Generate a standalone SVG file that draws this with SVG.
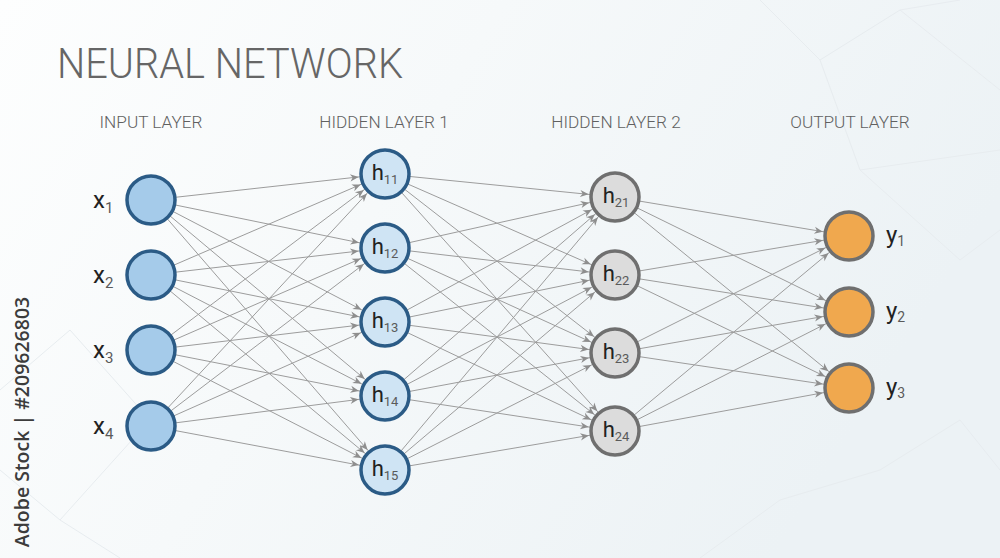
<svg xmlns="http://www.w3.org/2000/svg" width="1000" height="558" viewBox="0 0 1000 558">
  <defs>
    <linearGradient id="bg" x1="0" y1="0" x2="1" y2="0.35">
      <stop offset="0" stop-color="#fdfefe"/>
      <stop offset="0.45" stop-color="#f6f9fa"/>
      <stop offset="1" stop-color="#ecf2f5"/>
    </linearGradient>
    <marker id="ah" markerUnits="userSpaceOnUse" markerWidth="1" markerHeight="1" refX="0" refY="0" orient="auto" overflow="visible">
      <path d="M-26.5,0 L-35,-3.6 L-32.5,0 L-35,3.6 Z" fill="#8e8e8e"/>
    </marker>
    <style>
      .e { stroke:#9c9c9c; stroke-width:1; fill:none; marker-end:url(#ah); }
      .in { fill:#a5cbea; stroke:#2b5b86; stroke-width:3.5; }
      .h1 { fill:#cfe4f4; stroke:#2b5b86; stroke-width:3.5; }
      .h2 { fill:#dcdcdc; stroke:#6f6f6f; stroke-width:3.5; }
      .out { fill:#f0a84e; stroke:#6f6f6f; stroke-width:3.5; }
      .lbl { font-family:Roboto, "Liberation Sans", sans-serif; fill:#222; }
      .sub { fill:#5a5a5a; }
      .layer { font-family:Roboto, "Liberation Sans", sans-serif; font-weight:300; font-size:17.2px; fill:#606060; text-anchor:middle; }
      .deco { fill:none; stroke:#e7ecef; stroke-width:1; }
    </style>
  </defs>

  <rect x="0" y="0" width="1000" height="558" fill="url(#bg)"/>
  <g id="background-decoration">
    <polyline class="deco" points="0,390 70,330 150,420 60,520 0,470"/>
    <polyline class="deco" points="60,520 120,558"/>
    <polyline class="deco" points="760,0 820,60 900,10 1000,90"/>
    <polyline class="deco" points="820,60 860,170 1000,150"/>
    <polyline class="deco" points="900,10 960,0"/>
    <polyline class="deco" points="860,170 960,260 1000,230"/>
    <polyline class="deco" points="880,470 960,420 1000,470"/>
    <polyline class="deco" points="700,558 780,500 880,470"/>
  </g>

  <text id="title" x="57" y="78" font-family="Roboto, 'Liberation Sans', sans-serif" font-weight="300" font-size="42" fill="#666666" textLength="346" lengthAdjust="spacingAndGlyphs">NEURAL NETWORK</text>

  <g id="layer-labels">
    <text class="layer" x="151" y="128">INPUT LAYER</text>
    <text class="layer" x="384" y="128">HIDDEN LAYER 1</text>
    <text class="layer" x="616" y="128">HIDDEN LAYER 2</text>
    <text class="layer" x="850" y="128">OUTPUT LAYER</text>
  </g>

  <g id="connectors">
    <line class="e" x1="151" y1="200" x2="385" y2="174"/>
    <line class="e" x1="151" y1="200" x2="385" y2="248"/>
    <line class="e" x1="151" y1="200" x2="385" y2="322"/>
    <line class="e" x1="151" y1="200" x2="385" y2="396"/>
    <line class="e" x1="151" y1="200" x2="385" y2="470"/>
    <line class="e" x1="151" y1="275" x2="385" y2="174"/>
    <line class="e" x1="151" y1="275" x2="385" y2="248"/>
    <line class="e" x1="151" y1="275" x2="385" y2="322"/>
    <line class="e" x1="151" y1="275" x2="385" y2="396"/>
    <line class="e" x1="151" y1="275" x2="385" y2="470"/>
    <line class="e" x1="151" y1="350" x2="385" y2="174"/>
    <line class="e" x1="151" y1="350" x2="385" y2="248"/>
    <line class="e" x1="151" y1="350" x2="385" y2="322"/>
    <line class="e" x1="151" y1="350" x2="385" y2="396"/>
    <line class="e" x1="151" y1="350" x2="385" y2="470"/>
    <line class="e" x1="151" y1="426" x2="385" y2="174"/>
    <line class="e" x1="151" y1="426" x2="385" y2="248"/>
    <line class="e" x1="151" y1="426" x2="385" y2="322"/>
    <line class="e" x1="151" y1="426" x2="385" y2="396"/>
    <line class="e" x1="151" y1="426" x2="385" y2="470"/>

    <line class="e" x1="385" y1="174" x2="615" y2="197"/>
    <line class="e" x1="385" y1="174" x2="615" y2="275"/>
    <line class="e" x1="385" y1="174" x2="615" y2="353"/>
    <line class="e" x1="385" y1="174" x2="615" y2="431"/>
    <line class="e" x1="385" y1="248" x2="615" y2="197"/>
    <line class="e" x1="385" y1="248" x2="615" y2="275"/>
    <line class="e" x1="385" y1="248" x2="615" y2="353"/>
    <line class="e" x1="385" y1="248" x2="615" y2="431"/>
    <line class="e" x1="385" y1="322" x2="615" y2="197"/>
    <line class="e" x1="385" y1="322" x2="615" y2="275"/>
    <line class="e" x1="385" y1="322" x2="615" y2="353"/>
    <line class="e" x1="385" y1="322" x2="615" y2="431"/>
    <line class="e" x1="385" y1="396" x2="615" y2="197"/>
    <line class="e" x1="385" y1="396" x2="615" y2="275"/>
    <line class="e" x1="385" y1="396" x2="615" y2="353"/>
    <line class="e" x1="385" y1="396" x2="615" y2="431"/>
    <line class="e" x1="385" y1="470" x2="615" y2="197"/>
    <line class="e" x1="385" y1="470" x2="615" y2="275"/>
    <line class="e" x1="385" y1="470" x2="615" y2="353"/>
    <line class="e" x1="385" y1="470" x2="615" y2="431"/>

    <line class="e" x1="615" y1="197" x2="849" y2="236"/>
    <line class="e" x1="615" y1="197" x2="849" y2="312"/>
    <line class="e" x1="615" y1="197" x2="849" y2="388"/>
    <line class="e" x1="615" y1="275" x2="849" y2="236"/>
    <line class="e" x1="615" y1="275" x2="849" y2="312"/>
    <line class="e" x1="615" y1="275" x2="849" y2="388"/>
    <line class="e" x1="615" y1="353" x2="849" y2="236"/>
    <line class="e" x1="615" y1="353" x2="849" y2="312"/>
    <line class="e" x1="615" y1="353" x2="849" y2="388"/>
    <line class="e" x1="615" y1="431" x2="849" y2="236"/>
    <line class="e" x1="615" y1="431" x2="849" y2="312"/>
    <line class="e" x1="615" y1="431" x2="849" y2="388"/>
  </g>

  <g id="x1"><circle class="in" cx="151" cy="200" r="24"/><text class="lbl" x="93" y="208" font-size="24">x<tspan class="sub" font-size="15" dy="5">1</tspan></text></g>
  <g id="x2"><circle class="in" cx="151" cy="275" r="24"/><text class="lbl" x="93" y="283" font-size="24">x<tspan class="sub" font-size="15" dy="5">2</tspan></text></g>
  <g id="x3"><circle class="in" cx="151" cy="350" r="24"/><text class="lbl" x="93" y="358" font-size="24">x<tspan class="sub" font-size="15" dy="5">3</tspan></text></g>
  <g id="x4"><circle class="in" cx="151" cy="426" r="24"/><text class="lbl" x="93" y="434" font-size="24">x<tspan class="sub" font-size="15" dy="5">4</tspan></text></g>

  <g id="h11"><circle class="h1" cx="385" cy="174" r="24"/><text class="lbl" x="385" y="180" font-size="22" text-anchor="middle">h<tspan class="sub" font-size="13" dy="4">11</tspan></text></g>
  <g id="h12"><circle class="h1" cx="385" cy="248" r="24"/><text class="lbl" x="385" y="254" font-size="22" text-anchor="middle">h<tspan class="sub" font-size="13" dy="4">12</tspan></text></g>
  <g id="h13"><circle class="h1" cx="385" cy="322" r="24"/><text class="lbl" x="385" y="328" font-size="22" text-anchor="middle">h<tspan class="sub" font-size="13" dy="4">13</tspan></text></g>
  <g id="h14"><circle class="h1" cx="385" cy="396" r="24"/><text class="lbl" x="385" y="402" font-size="22" text-anchor="middle">h<tspan class="sub" font-size="13" dy="4">14</tspan></text></g>
  <g id="h15"><circle class="h1" cx="385" cy="470" r="24"/><text class="lbl" x="385" y="476" font-size="22" text-anchor="middle">h<tspan class="sub" font-size="13" dy="4">15</tspan></text></g>

  <g id="h21"><circle class="h2" cx="615" cy="197" r="24"/><text class="lbl" x="616" y="203" font-size="22" text-anchor="middle">h<tspan class="sub" font-size="13" dy="4">21</tspan></text></g>
  <g id="h22"><circle class="h2" cx="615" cy="275" r="24"/><text class="lbl" x="616" y="281" font-size="22" text-anchor="middle">h<tspan class="sub" font-size="13" dy="4">22</tspan></text></g>
  <g id="h23"><circle class="h2" cx="615" cy="353" r="24"/><text class="lbl" x="616" y="359" font-size="22" text-anchor="middle">h<tspan class="sub" font-size="13" dy="4">23</tspan></text></g>
  <g id="h24"><circle class="h2" cx="615" cy="431" r="24"/><text class="lbl" x="616" y="437" font-size="22" text-anchor="middle">h<tspan class="sub" font-size="13" dy="4">24</tspan></text></g>

  <g id="y1"><circle class="out" cx="849" cy="236" r="24"/><text class="lbl" x="886" y="243" font-size="24">y<tspan class="sub" font-size="14" dy="3">1</tspan></text></g>
  <g id="y2"><circle class="out" cx="849" cy="312" r="24"/><text class="lbl" x="886" y="319" font-size="24">y<tspan class="sub" font-size="14" dy="3">2</tspan></text></g>
  <g id="y3"><circle class="out" cx="849" cy="388" r="24"/><text class="lbl" x="886" y="395" font-size="24">y<tspan class="sub" font-size="14" dy="3">3</tspan></text></g>

  <text id="stock-id" transform="translate(29,422) rotate(-90)" text-anchor="middle" font-family="'Open Sans', 'Liberation Sans', sans-serif" font-weight="600" font-size="19.5" fill="#3c3c3c">Adobe Stock | #209626803</text>
</svg>
